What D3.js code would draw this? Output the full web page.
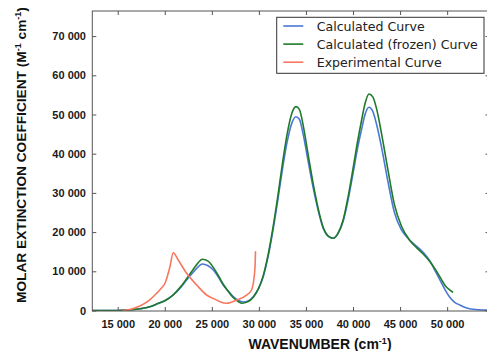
<!DOCTYPE html>
<html><head><meta charset="utf-8">
<script src="https://cdn.jsdelivr.net/npm/d3@7"></script>
<style>
html,body{margin:0;padding:0;background:#fff;}
svg{display:block;}
</style>
</head><body>
<svg id="chart" width="487" height="351"></svg>
<script>
// ---- data ----
const calcX = [12300,15000,16000,17360,18500,19140,20000,20900,21700,22320,23000,23390,24000,24600,25150,25700,26210,26800,27270,27800,28330,28900,29400,29950,30460,31000,31500,32000,32500,33000,33500,33930,34300,34700,35200,35770,36300,36830,37400,37890,38400,38950,39500,40010,40500,40900,41300,41700,42100,42500,43000,43700,44400,45150,46000,46800,47500,48200,48800,49300,49800,50300,50800,51340,52000,52750,54500];
const calcY = [0,0,100,460,1000,1660,2500,3950,5900,7780,9700,10760,11860,11400,10330,8500,6500,4800,3520,2600,2170,2500,3520,5500,8620,14000,20500,28000,36000,43000,47800,49440,48800,45000,38500,31260,25500,21000,18900,18420,19600,22750,28500,35070,41600,46100,50200,51840,50800,47500,42000,33000,25000,20540,18000,16300,14700,12500,9800,7500,5200,3300,2100,1400,700,300,80];

const frozX = [12300,15000,16000,17360,18500,19140,20000,20900,21700,22320,23000,23390,24000,24600,25150,25700,26210,26800,27270,27800,28200,28800,29400,29950,30460,31000,31500,32000,32500,33000,33500,33930,34300,34700,35200,35770,36300,36830,37400,37890,38400,38950,39500,40010,40500,40900,41300,41700,42100,42500,43000,43700,44400,45150,46000,46800,47500,48200,48800,49300,49800,50300,50570];
const frozY = [0,0,100,450,1000,1650,2500,4000,6100,8100,10400,11700,13060,12600,11000,8900,6700,4700,3300,2300,1840,2200,3400,5600,8900,14500,21200,29000,37500,45000,50300,52000,51300,47300,40200,32300,26000,21200,18900,18420,19700,23100,29300,36300,43300,48400,53000,55230,54500,51500,45500,36000,27000,21500,18000,15900,14300,12400,10300,8300,6300,5200,4720];

const expX = [15590,16500,17360,18300,19140,19600,20020,20550,20900,21430,22320,23390,24450,25300,25860,26570,27630,28690,29220,29570,29640];
const expY = [0,400,1150,2500,4390,5600,6940,11170,14750,12880,9490,6500,3950,2900,2250,1840,2680,3950,5230,10330,15000];

const xTicks = [15000,20000,25000,30000,35000,40000,45000,50000];
const yTicks = [0,10000,20000,30000,40000,50000,60000,70000];
const seriesNames = ["Calculated Curve","Calculated (frozen) Curve","Experimental Curve"];
const seriesColors = ["#4a78d6","#1f7a28","#f7785f"];

// ---- layout ----
const L = 92.3, R = 489.5, T = 11, B = 311;
const x = d3.scaleLinear().domain([12300, 54500]).range([L, R]);
const y = d3.scaleLinear().domain([0, 76400]).range([B - 0.5, T]);

const svg = d3.select("#chart");
const fmt = d => d === 0 ? "0" : d3.format(",")(d).replace(/,/g, " ");

svg.append("defs").append("clipPath").attr("id","clip")
  .append("rect").attr("x",L).attr("y",T).attr("width",R-L).attr("height",B-T);

// curves
const toPts = (xs, ys) => xs.map((v,i)=>[v, ys[i]]);
const line = d3.line().x(d=>x(d[0])).y(d=>y(d[1])).curve(d3.curveMonotoneX);
const series = [toPts(calcX,calcY), toPts(frozX,frozY), toPts(expX,expY)];
const g = svg.append("g").attr("clip-path","url(#clip)");
series.forEach((s,i)=>{
  g.append("path").datum(s).attr("d",line).attr("fill","none")
   .attr("stroke",seriesColors[i]).attr("stroke-width",1.6)
   .attr("stroke-linejoin","round").attr("stroke-linecap","round");
});

// axes
const axStyle = sel => {
  sel.select(".domain").remove();
  sel.selectAll(".tick line").attr("stroke","#555");
  sel.selectAll(".tick text").attr("fill","#1a1a1a")
    .style("font-family","'Liberation Sans', Arial, sans-serif")
    .style("font-size","11px").style("font-weight","bold");
};
svg.append("g").attr("transform",`translate(0,${B})`)
  .call(d3.axisBottom(x).tickValues(xTicks).tickFormat(fmt).tickSize(-4).tickPadding(9)).call(axStyle);
svg.append("g").attr("transform",`translate(0,${T})`)
  .call(d3.axisTop(x).tickValues(xTicks).tickFormat("").tickSize(-4)).call(axStyle);
svg.append("g").attr("transform",`translate(${L},0)`)
  .call(d3.axisLeft(y).tickValues(yTicks).tickFormat(fmt).tickSize(-4).tickPadding(6.3)).call(axStyle);
svg.append("g").attr("transform",`translate(${R},0)`)
  .call(d3.axisRight(y).tickValues(yTicks).tickFormat("").tickSize(-4)).call(axStyle);

// frame
svg.append("rect").attr("x",L).attr("y",T).attr("width",R-L).attr("height",B-T)
  .attr("fill","none").attr("stroke","#555").attr("stroke-width",1);

// axis labels
const xl = svg.append("text").attr("x",320).attr("y",349).attr("text-anchor","middle")
  .attr("fill","#111").style("font-family","'Liberation Sans', Arial, sans-serif")
  .style("font-size","14px").style("font-weight","bold");
xl.append("tspan").text("WAVENUMBER (cm");
xl.append("tspan").attr("dy",-5).style("font-size","9px").text("-1");
xl.append("tspan").attr("dy",5).text(")");

const yl = svg.append("text").attr("transform","translate(26,155) rotate(-90)").attr("text-anchor","middle")
  .attr("fill","#111").style("font-family","'Liberation Sans', Arial, sans-serif")
  .style("font-size","13.7px").style("font-weight","bold");
yl.append("tspan").text("MOLAR EXTINCTION COEFFICIENT (M");
yl.append("tspan").attr("dy",-5).style("font-size","9px").text("-1");
yl.append("tspan").attr("dy",5).text(" cm");
yl.append("tspan").attr("dy",-5).style("font-size","9px").text("-1");
yl.append("tspan").attr("dy",5).text(")");

// legend
const lg = svg.append("g");
lg.append("rect").attr("x",276.7).attr("y",17.3).attr("width",207.3).attr("height",56)
  .attr("fill","#fff").attr("stroke","#333").attr("stroke-width",1);
seriesNames.forEach((n,i)=>{
  const yy = 26 + i*18.1;
  lg.append("line").attr("x1",283.3).attr("x2",303.3).attr("y1",yy).attr("y2",yy)
    .attr("stroke",seriesColors[i]).attr("stroke-width",1.6);
  lg.append("text").attr("x",316.7).attr("y",yy).attr("dy","0.36em").attr("fill","#222")
    .style("font-family","'DejaVu Sans', sans-serif").style("font-size","12.6px").text(n);
});
</script>
</body></html>
